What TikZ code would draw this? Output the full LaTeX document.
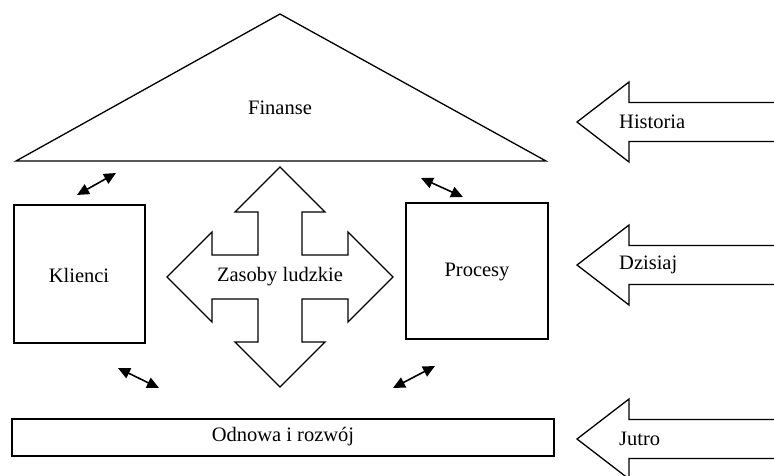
\documentclass[tikz,border=0pt]{standalone}
\usepackage{fontspec}
\setmainfont{Liberation Serif}
\usetikzlibrary{arrows.meta}
\begin{document}
\begin{tikzpicture}[x=1pt,y=-1pt,
  shape line/.style={draw=black,line width=1.3pt,line join=miter,fill=white},
  lbl/.style={inner sep=0pt,font=\fontsize{20.5}{24}\selectfont},
  link/.style={line width=1.6pt,{Triangle[length=12pt,width=11pt]}-{Triangle[length=12pt,width=11pt]}}]
\useasboundingbox (0,0) rectangle (774,475);

% roof: finance
\draw[shape line] (280,14) -- (546,161) -- (16,161) -- cycle;
\node[lbl] (fin) at (280,108) {Finanse};

% customers and processes
\draw[shape line] (14,205) rectangle (145,343);
\node[lbl] (kli) at (79,275) {Klienci};
\draw[shape line] (406,203) rectangle (548,339);
\node[lbl] (pro) at (477,272) {Procesy};

% four-way arrow: human resources
\begin{scope}[shift={(280,277)}]
\draw[shape line] (0,-110) -- (45,-65) -- (22,-65) -- (22,-22) -- (68,-22) -- (68,-45)
  -- (113,0) -- (68,45) -- (68,22) -- (22,22) -- (22,65) -- (45,65)
  -- (0,110) -- (-45,65) -- (-22,65) -- (-22,22) -- (-68,22) -- (-68,45)
  -- (-113,0) -- (-68,-45) -- (-68,-22) -- (-22,-22) -- (-22,-65) -- (-45,-65) -- cycle;
\end{scope}
\node[lbl] (zas) at (280,277) {Zasoby ludzkie};

% foundation
\draw[shape line] (12,419) rectangle (554,456);
\node[lbl] (odn) at (283,437) {Odnowa i rozwój};

% time arrows on the right
\foreach \yy/\txt/\nm in {122/Historia/his,265/Dzisiaj/dzi,439/Jutro/jut}{
  \draw[shape line] (577,\yy) -- (629,\yy-40) -- (629,\yy-19.5) -- (790,\yy-19.5)
    -- (790,\yy+19.5) -- (629,\yy+19.5) -- (629,\yy+40) -- cycle;
  \node[lbl,anchor=west] (\nm) at (619,\yy) {\txt};
}

% relations between the blocks
\coordinate (a1) at (77,195);  \coordinate (b1) at (116,173);
\coordinate (a2) at (421,178); \coordinate (b2) at (463,197);
\coordinate (a3) at (118,368); \coordinate (b3) at (159,388);
\coordinate (a4) at (393,388); \coordinate (b4) at (435,366);
\draw[link] (a1) -- (b1);
\draw[link] (a2) -- (b2);
\draw[link] (a3) -- (b3);
\draw[link] (a4) -- (b4);
\end{tikzpicture}
\end{document}
